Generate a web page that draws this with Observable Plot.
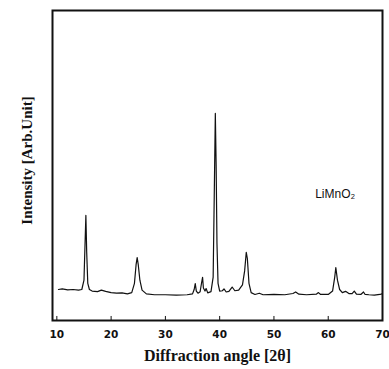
<!DOCTYPE html>
<html>
<head>
<meta charset="utf-8">
<script src="https://cdn.jsdelivr.net/npm/d3@7"></script>
<script src="https://cdn.jsdelivr.net/npm/@observablehq/plot@0.6"></script>
<style>
  body { margin: 0; background: #fff; }
  #chart svg { display: block; background: #fff; }
</style>
</head>
<body>
<div id="chart"></div>
<script>
// Diffraction angle (2θ) values of the trace
const angle = [
  10.3, 11, 12, 13, 14, 14.6, 15.0, 15.2, 15.35, 15.5, 15.7, 16.0, 16.5, 17.5, 18.2, 19, 20, 21, 22, 23, 23.8,
  24.3, 24.6, 24.8, 25.0, 25.3, 25.7, 26.5, 28, 30, 32, 34, 35.0, 35.3, 35.5, 35.7, 36.0, 36.4, 36.7, 36.85,
  37.0, 37.3, 37.5, 37.8, 38.4, 38.8, 39.0, 39.2, 39.35, 39.5, 39.7, 40.0, 40.5, 40.8, 41.2, 41.7, 42.3, 42.8,
  43.5, 44.2, 44.6, 44.9, 45.1, 45.4, 45.8, 46.5, 47.3, 48, 50, 52, 53.5, 54, 54.6, 56, 57.8, 58.2, 58.6, 60,
  60.8, 61.2, 61.4, 61.7, 62.1, 62.6, 63.2, 63.8, 64.4, 64.8, 65.2, 66.0, 66.5, 66.8, 67.5, 68.5, 69.5, 69.9
];
// Intensity (arbitrary units) at each angle
const intensity = [
  10.0, 10.2, 9.9, 10.0, 9.8, 10.0, 13, 25, 33.9, 22, 12, 10, 9.5, 9.3, 9.8, 9.4, 9.0, 8.8, 8.9, 8.6, 9.0,
  12, 18, 20.3, 18, 13, 9.8, 8.6, 8.3, 8.3, 8.2, 8.3, 8.6, 10, 11.9, 9.5, 8.8, 9.3, 12.5, 13.9,
  10.5, 9.5, 10.3, 8.9, 9.3, 14, 40, 66.8, 50, 25, 12, 9.5, 9.6, 10.2, 9.2, 9.4, 10.8, 9.6,
  9.8, 11.5, 16, 22, 20, 12, 9, 8.4, 8.8, 8.3, 8.4, 8.3, 8.7, 9.2, 8.5, 8.3, 8.5, 9.0, 8.4, 8.4,
  9.5, 14, 17.1, 13, 10, 9.0, 9.4, 8.7, 8.7, 9.5, 8.5, 8.4, 9.2, 8.4, 8.3, 8.2, 8.4, 8.6
];
const xTicks = [10, 20, 30, 40, 50, 60, 70];
const xLabel = "Diffraction angle [2θ]";
const yLabel = "Intensity [Arb.Unit]";
const sampleLabel = "LiMnO₂";
const sampleLabelPos = [57.6, 40.6];

const data = angle.map((a, i) => ({angle: a, intensity: intensity[i]}));

const chart = Plot.plot({
  width: 389,
  height: 369,
  marginLeft: 52,
  marginRight: 7,
  marginTop: 10,
  marginBottom: 49,
  x: {domain: [9.2, 70]},
  y: {domain: [0, 100]},
  style: {background: "#fff", overflow: "visible"},
  marks: [
    Plot.line(data, {x: "angle", y: "intensity", stroke: "#111", strokeWidth: 1.2}),
    Plot.ruleX(xTicks, {y1: 0, y2: 1.3, stroke: "#111", strokeWidth: 1}),
    Plot.frame({stroke: "#111", strokeWidth: 2}),
    Plot.axisX({ticks: xTicks, tickSize: 0, tickPadding: 10, label: null,
      fontFamily: "DejaVu Sans, Verdana, sans-serif", fontWeight: "bold", fontSize: 10.5, fill: "#111"}),
    Plot.axisY({ticks: [], label: null}),
    Plot.text([sampleLabel], {x: sampleLabelPos[0], y: sampleLabelPos[1], text: d => d, textAnchor: "start",
      fontFamily: "Liberation Sans, Arial, sans-serif", fontSize: 12, fill: "#111"}),
    Plot.text([xLabel], {frameAnchor: "bottom", dy: 40, text: d => d,
      fontFamily: "Liberation Serif, Times New Roman, serif", fontWeight: "bold", fontSize: 16,
      letterSpacing: "1.1px", fill: "#111"}),
    Plot.text([yLabel], {frameAnchor: "left", textAnchor: "middle", dx: -25, dy: -5, rotate: -90, text: d => d,
      fontFamily: "Liberation Serif, Times New Roman, serif", fontWeight: "bold", fontSize: 15,
      letterSpacing: "0.3px", fill: "#111"})
  ]
});
document.getElementById("chart").appendChild(chart);
</script>
</body>
</html>
